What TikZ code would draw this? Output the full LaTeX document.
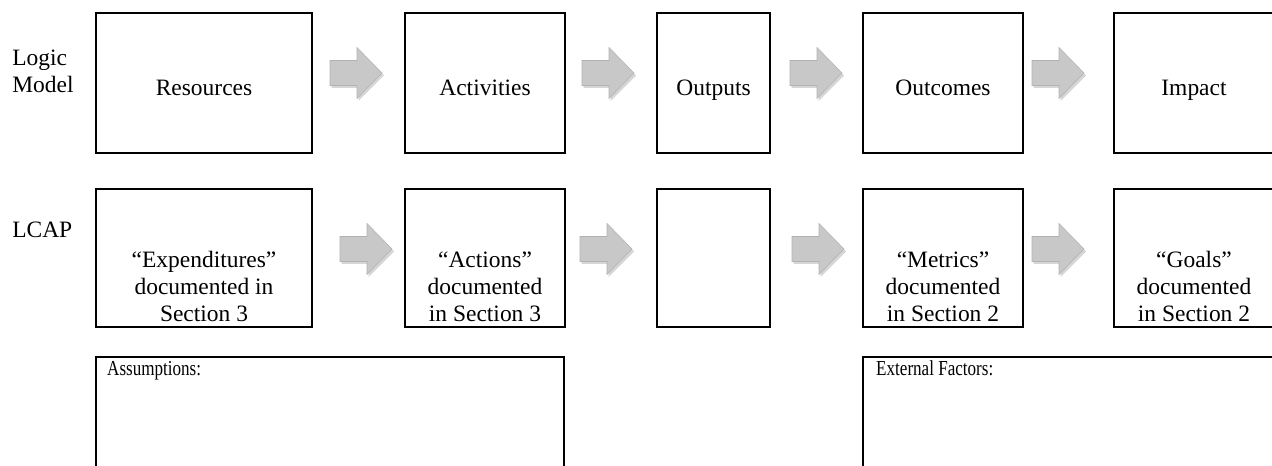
\documentclass[tikz,border=0pt]{standalone}
\usepackage{fontspec}
\setmainfont{Liberation Serif}
\definecolor{arrowfill}{RGB}{200,200,200}
\definecolor{arrowedge}{RGB}{178,178,178}
\definecolor{arrowshadow}{RGB}{120,120,120}
\tikzset{
  boxnode/.style 2 args={draw=black, line width=1.5pt, inner sep=0pt,
    minimum width=#1*0.75pt, minimum height=#2*0.75pt},
  bigtxt/.style={font=\fontsize{17.6}{21}\selectfont, inner sep=0pt, anchor=base},
  rowlabel/.style={bigtxt, anchor=base west},
  smalltxt/.style={font=\fontsize{16}{19}\selectfont, inner sep=0pt, anchor=base west, xscale=0.8},
  pics/blockarrow/.style={code={
    \fill[arrowshadow, opacity=.3]
      (1.5,15) -- (28.5,15) -- (28.5,28) -- (54,2.5) -- (28.5,-23) -- (28.5,-10) -- (1.5,-10) -- cycle;
    \filldraw[fill=arrowfill, draw=arrowedge, line width=.4pt]
      (0,12.5) -- (27,12.5) -- (27,25.5) -- (52,0) -- (27,-25.5) -- (27,-12.5) -- (0,-12.5) -- cycle;
  }}
}
\begin{document}
\begin{tikzpicture}[x=0.75pt, y=-0.75pt]
\useasboundingbox (0,0) rectangle (1272,466);
\clip (0,0) rectangle (1272,466);

% row labels
\node[rowlabel] (lm1) at (12,66) {Logic};
\node[rowlabel] (lm2) at (12,93) {Model};
\node[rowlabel] (lcap) at (12,238) {LCAP};

% row 1 boxes
\node[boxnode={216}{140}] (res) at (204,83) {};
\node[boxnode={160}{140}] (act) at (485,83) {};
\node[boxnode={113}{140}] (out) at (713.5,83) {};
\node[boxnode={160}{140}] (outc) at (943,83) {};
\node[boxnode={160}{140}] (imp) at (1194,83) {};
\node[bigtxt] (tres) at (204,96) {Resources};
\node[bigtxt] (tact) at (485,96) {Activities};
\node[bigtxt] (tout) at (713.5,96) {Outputs};
\node[bigtxt] (toutc) at (943,96) {Outcomes};
\node[bigtxt] (timp) at (1194,96) {Impact};

% row 1 arrows
\pic (a11) at (330,73) {blockarrow};
\pic (a12) at (582,73) {blockarrow};
\pic (a13) at (790,73) {blockarrow};
\pic (a14) at (1032,73) {blockarrow};

% row 2 boxes
\node[boxnode={216}{138}] (exp) at (204,258) {};
\node[boxnode={160}{138}] (actn) at (485,258) {};
\node[boxnode={113}{138}] (empty) at (713.5,258) {};
\node[boxnode={160}{138}] (met) at (943,258) {};
\node[boxnode={160}{138}] (goal) at (1194,258) {};

\node[bigtxt] (e1) at (204,268) {“Expenditures”};
\node[bigtxt] (e2) at (204,295) {documented in};
\node[bigtxt] (e3) at (204,322) {Section 3};
\node[bigtxt] (c1) at (485,268) {“Actions”};
\node[bigtxt] (c2) at (485,295) {documented};
\node[bigtxt] (c3) at (485,322) {in Section 3};
\node[bigtxt] (m1) at (943,268) {“Metrics”};
\node[bigtxt] (m2) at (943,295) {documented};
\node[bigtxt] (m3) at (943,322) {in Section 2};
\node[bigtxt] (g1) at (1194,268) {“Goals”};
\node[bigtxt] (g2) at (1194,295) {documented};
\node[bigtxt] (g3) at (1194,322) {in Section 2};

% row 2 arrows
\pic (a21) at (340,249) {blockarrow};
\pic (a22) at (580,249) {blockarrow};
\pic (a23) at (792,249) {blockarrow};
\pic (a24) at (1032,249) {blockarrow};

% row 3 boxes
\node[boxnode={468}{143}] (ass) at (330,428.5) {};
\node[boxnode={437}{143}] (ext) at (1081.5,428.5) {};
\node[smalltxt] (tass) at (107,376) {Assumptions:};
\node[smalltxt] (text) at (876,376) {External Factors:};
\end{tikzpicture}
\end{document}
